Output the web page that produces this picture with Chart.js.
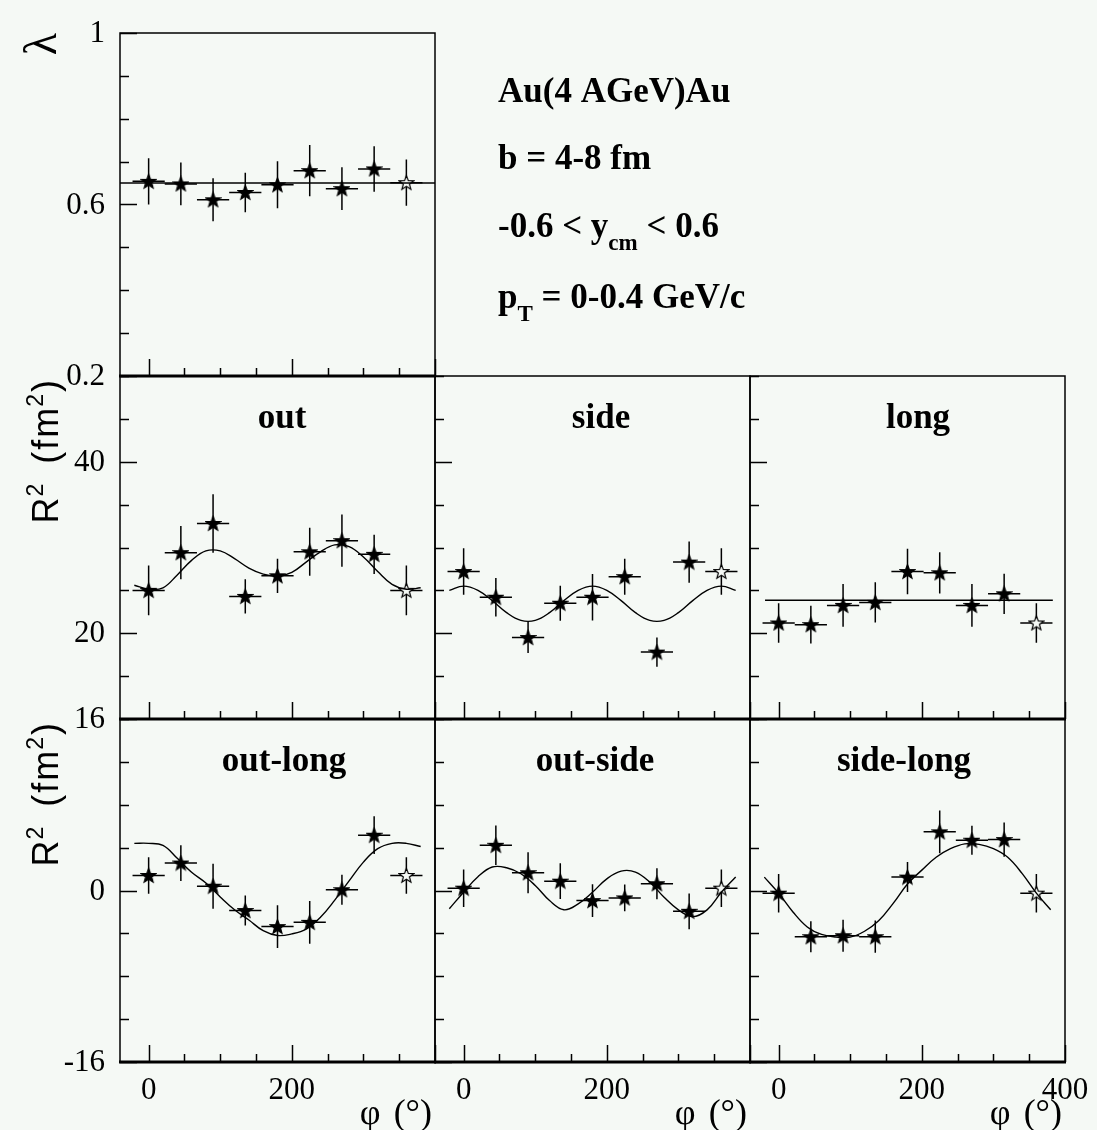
<!DOCTYPE html>
<html>
<head>
<meta charset="utf-8">
<script src="https://cdn.jsdelivr.net/npm/chart.js@4"></script>
<style>
  body { margin: 0; background: #f5f9f5; }
  #page { position: relative; width: 1097px; height: 1130px; overflow: hidden; }
  #page canvas { position: absolute; left: 0; top: 0; }
</style>
</head>
<body>
<div id="page"></div>
<script>
// emission angle of the pion pair, bin width +-22.5 deg; the 360 point is the mirrored 0 point
const phiPoints = [0, 45, 90, 135, 180, 225, 270, 315, 360];
const phiHalfWidth = 22.5;
const phiCurve = [-20, 0, 20, 40, 60, 80, 100, 120, 140, 160, 180, 200, 220, 240, 260, 280, 300, 320, 340, 360, 380];

const lambdaValues = [0.654, 0.648, 0.611, 0.628, 0.646, 0.679, 0.637, 0.683, 0.651];
const lambdaErrors = [0.054, 0.05, 0.05, 0.046, 0.055, 0.06, 0.05, 0.053, 0.054];
const lambdaFitPhi = [-40, 400];
const lambdaFit = [0.650, 0.650];

const outValues = [25.0, 29.4, 32.8, 24.3, 26.7, 29.5, 30.8, 29.2, 25.0];
const outErrors = [2.9, 3.1, 3.4, 2.0, 2.0, 2.8, 3.05, 2.3, 2.9];
const outFit = [25.6, 25.15, 25.3, 26.8, 28.5, 29.6, 29.6, 28.7, 27.6, 26.9, 26.65, 27.1, 28.3, 29.5, 30.3, 30.1, 28.9, 27.2, 25.7, 25.13, 25.3];

const sideValues = [27.2, 24.2, 19.5, 23.5, 24.2, 26.6, 17.8, 28.3, 27.2];
const sideErrors = [2.7, 2.25, 1.8, 2.05, 2.7, 2.1, 1.7, 2.4, 2.7];
const sideFit = [25.0, 25.5, 25.0, 23.8, 22.4, 21.5, 21.5, 22.4, 23.8, 25.0, 25.5, 25.0, 23.8, 22.4, 21.5, 21.5, 22.4, 23.8, 25.0, 25.5, 25.0];

const longValues = [21.2, 21.0, 23.25, 23.6, 27.2, 27.05, 23.25, 24.6, 21.2];
const longErrors = [2.3, 2.2, 2.5, 2.35, 2.65, 2.4, 2.5, 2.35, 2.3];
const longFitPhi = [-19, 383];
const longFit = [23.84, 23.84];

const outLongValues = [1.4, 2.56, 0.4, -1.87, -3.37, -2.97, 0.07, 5.16, 1.4];
const outLongErrors = [1.7, 1.67, 2.1, 1.4, 2.0, 2.0, 1.4, 1.76, 1.7];
const outLongFit = [4.4, 4.4, 4.2, 3.0, 1.7, 0.7, -0.6, -1.8, -2.75, -3.75, -4.2, -4.05, -3.6, -2.5, -0.9, 0.9, 2.65, 3.9, 4.4, 4.4, 4.1];

const outSideValues = [0.22, 4.22, 1.66, 0.87, -0.94, -0.69, 0.63, -1.94, 0.22];
const outSideErrors = [1.75, 1.84, 1.92, 1.67, 1.53, 1.25, 1.44, 1.67, 1.75];
const outSideFit = [-1.7, -0.16, 1.28, 2.19, 2.12, 1.56, 0.47, -0.94, -1.8, -1.25, -0.16, 1.09, 1.81, 1.72, 0.78, -0.63, -1.81, -2.44, -1.81, -0.16, 1.25];

const sideLongValues = [-0.25, -4.31, -4.22, -4.31, 1.25, 5.47, 4.69, 4.75, -0.25];
const sideLongErrors = [1.8, 1.45, 1.5, 1.5, 1.4, 2.0, 1.36, 1.6, 1.8];
const sideLongFit = [1.25, -0.25, -2.0, -3.4, -4.1, -4.35, -4.35, -3.8, -2.8, -1.2, 0.6, 1.9, 3.1, 3.9, 4.35, 4.3, 3.9, 3.1, 1.6, -0.25, -1.8];

// labelled (major) ticks
const phiTicks = [0, 200, 400];
const lambdaTicks = [1, 0.6, 0.2];
const radiusTicks = [40, 20];
const crossTicks = [16, 0, -16];

const W = 1097, H = 1130;
const PW = 315, PH = 343;
const BG = '#f5f9f5';
const SERIF = '"Liberation Serif", "Times New Roman", serif';
const SANS = '"Liberation Sans", Arial, sans-serif';
const page = document.getElementById('page');

function makeStar(filled) {
    const c = document.createElement('canvas');
    c.width = 17; c.height = 17;
    const g = c.getContext('2d');
    g.beginPath();
    for (let i = 0; i < 10; i++) {
        const r = i % 2 ? 3.2 : 7.6;
        const a = -Math.PI / 2 + i * Math.PI / 5;
        g.lineTo(8.5 + r * Math.cos(a), 9 + r * Math.sin(a));
    }
    g.closePath();
    g.fillStyle = filled ? '#000' : BG;
    g.fill();
    g.lineWidth = 1.2;
    g.strokeStyle = '#000';
    g.stroke();
    return c;
}
const fullStar = makeStar(true);
const openStar = makeStar(false);

function drawRich(ctx, x, y, parts) {
    ctx.textAlign = 'left';
    ctx.textBaseline = 'alphabetic';
    parts.forEach(([text, font, dy, gap]) => {
        ctx.font = font;
        x += gap || 0;
        ctx.fillText(text, x, y + (dy || 0));
        x += ctx.measureText(text).width;
    });
}

function richWidth(ctx, parts) {
    let len = 0;
    parts.forEach(([t, f, dy, gap]) => { ctx.font = f; len += ctx.measureText(t).width + (gap || 0); });
    return len;
}

function drawInfo(ctx) {
    const big = 'bold 35px ' + SERIF;
    const sub = 'bold 23px ' + SERIF;
    ctx.fillStyle = '#000';
    drawRich(ctx, 498, 102, [['Au(4 AGeV)Au', big]]);
    drawRich(ctx, 498, 169, [['b = 4-8 fm', big]]);
    drawRich(ctx, 498, 237, [['-0.6 < y', big], ['cm', sub, 13], [' < 0.6', big]]);
    drawRich(ctx, 498, 308, [['p', big], ['T', sub, 13], [' = 0-0.4 GeV/c', big]]);
}

function drawRadiusTitle(ctx, top) {
    const big = '36px ' + SANS;
    const sup = '23px ' + SANS;
    const parts = [['R', big], ['2', sup, -15, 1], ['(', big, 0, 20], ['f', big, 0, 2], ['m', big, 0, 2], ['2', sup, -15, 1], [')', big, 0, 2]];
    const len = richWidth(ctx, parts);
    ctx.save();
    ctx.translate(58, top + 4 + len);
    ctx.rotate(-Math.PI / 2);
    drawRich(ctx, 0, 0, parts);
    ctx.restore();
}

function panelPlugin(p) {
    return {
        id: 'panelFrame',
        beforeDatasetsDraw(chart) {
            const { ctx, scales: { x: xs, y: ys } } = chart;
            ctx.save();
            ctx.strokeStyle = '#000';
            ctx.lineWidth = 1.5;
            ctx.beginPath();
            phiPoints.forEach((phi, i) => {
                const v = p.values[i], e = p.errors[i];
                const px = xs.getPixelForValue(phi), py = ys.getPixelForValue(v);
                ctx.moveTo(xs.getPixelForValue(phi - phiHalfWidth), py);
                ctx.lineTo(xs.getPixelForValue(phi + phiHalfWidth), py);
                ctx.moveTo(px, ys.getPixelForValue(v + e));
                ctx.lineTo(px, ys.getPixelForValue(v - e));
            });
            ctx.stroke();
            ctx.restore();
        },
        afterDraw(chart) {
            const { ctx, chartArea: a, scales: { x: xs, y: ys } } = chart;
            ctx.save();
            ctx.strokeStyle = '#000';
            ctx.fillStyle = '#000';
            ctx.lineWidth = 1.5;
            ctx.strokeRect(a.left, a.top, a.right - a.left, a.bottom - a.top);
            ctx.lineWidth = 3;
            ctx.beginPath();
            ctx.moveTo(a.left - 1, a.bottom);
            ctx.lineTo(a.right + 1, a.bottom);
            ctx.stroke();

            // inward ticks
            ctx.lineWidth = 1.5;
            ctx.beginPath();
            const ny = Math.round((p.yMax - p.yMin) / p.yMinor);
            for (let k = 0; k <= ny; k++) {
                const v = p.yMin + k * p.yMinor;
                const major = p.yTicks.some(t => Math.abs(t - v) < 1e-6);
                const py = Math.round(ys.getPixelForValue(v)) + 0.5;
                ctx.moveTo(a.left, py);
                ctx.lineTo(a.left + (major ? 17 : 9), py);
            }
            for (let v = 0; v <= 400; v += 50) {
                const major = phiTicks.includes(v);
                const px = Math.round(xs.getPixelForValue(v)) + 0.5;
                ctx.moveTo(px, a.bottom);
                ctx.lineTo(px, a.bottom - (major ? 17 : 8));
            }
            ctx.stroke();

            ctx.font = '31px ' + SERIF;
            if (p.yLabels) {
                ctx.textAlign = 'right';
                ctx.textBaseline = 'middle';
                p.yTicks.forEach(t => {
                    ctx.fillText(String(t), a.left - 15, ys.getPixelForValue(t) + 1);
                });
            }
            if (p.xLabels) {
                ctx.textAlign = 'center';
                ctx.textBaseline = 'middle';
                p.xLabels.forEach(t => {
                    ctx.fillText(String(t), xs.getPixelForValue(t), a.bottom + 29);
                });
                ctx.font = '36px ' + SERIF;
                ctx.textAlign = 'right';
                ctx.textBaseline = 'alphabetic';
                const unitRight = a.right - 3;
                ctx.fillText('(\u00B0)', unitRight, a.bottom + 62);
                const unitWidth = ctx.measureText('(\u00B0)').width;
                ctx.fillText('\u03C6', unitRight - unitWidth - 13, a.bottom + 62);
            }
            if (p.title) {
                ctx.font = 'bold 35px ' + SERIF;
                ctx.textAlign = 'center';
                ctx.textBaseline = 'alphabetic';
                ctx.fillText(p.title, p.titleX, a.top + 52);
            }
            if (p.extra) p.extra(ctx, a);
            ctx.restore();
        }
    };
}

function panel(p) {
    const canvas = document.createElement('canvas');
    canvas.width = W;
    canvas.height = H;
    page.appendChild(canvas);
    const [left, top] = p.at;
    new Chart(canvas, {
        type: 'scatter',
        data: {
            datasets: [
                {
                    data: p.fitPhi.map((x, i) => ({ x, y: p.fit[i] })),
                    showLine: true,
                    borderColor: '#000',
                    borderWidth: 1.4,
                    pointRadius: 0,
                    tension: 0.4,
                },
                {
                    data: phiPoints.map((x, i) => ({ x, y: p.values[i] })),
                    pointStyle: phiPoints.map((x, i) => i === phiPoints.length - 1 ? openStar : fullStar),
                    pointRadius: 7,
                }
            ]
        },
        options: {
            responsive: false,
            animation: false,
            events: [],
            layout: { padding: { left, top, right: W - left - PW, bottom: H - top - PH } },
            scales: {
                x: { type: 'linear', min: -40, max: 400, display: false },
                y: { type: 'linear', min: p.yMin, max: p.yMax, display: false },
            },
            plugins: { legend: { display: false }, tooltip: { enabled: false } },
        },
        plugins: [panelPlugin(p)],
    });
}

const lambdaRow = { yMin: 0.2, yMax: 1, yMinor: 0.1, yTicks: lambdaTicks };
const radiusRow = { yMin: 10, yMax: 50, yMinor: 5, yTicks: radiusTicks };
const crossRow = { yMin: -16, yMax: 16, yMinor: 4, yTicks: crossTicks };

panel({ ...lambdaRow, at: [120, 33], values: lambdaValues, errors: lambdaErrors,
    fitPhi: lambdaFitPhi, fit: lambdaFit, yLabels: true,
    extra: (ctx) => {
        ctx.save();
        ctx.font = '46px ' + SERIF;
        ctx.textAlign = 'center';
        ctx.textBaseline = 'middle';
        ctx.translate(44, 44);
        ctx.rotate(-Math.PI / 2);
        ctx.fillText('\u03BB', 0, 0);
        ctx.restore();
        drawInfo(ctx);
    } });

panel({ ...radiusRow, at: [120, 376], values: outValues, errors: outErrors,
    fitPhi: phiCurve, fit: outFit, yLabels: true, title: 'out', titleX: 282,
    extra: (ctx, a) => drawRadiusTitle(ctx, a.top) });
panel({ ...radiusRow, at: [435, 376], values: sideValues, errors: sideErrors,
    fitPhi: phiCurve, fit: sideFit, title: 'side', titleX: 601 });
panel({ ...radiusRow, at: [750, 376], values: longValues, errors: longErrors,
    fitPhi: longFitPhi, fit: longFit, title: 'long', titleX: 918 });

panel({ ...crossRow, at: [120, 719], values: outLongValues, errors: outLongErrors,
    fitPhi: phiCurve, fit: outLongFit, yLabels: true, xLabels: [0, 200],
    title: 'out-long', titleX: 284,
    extra: (ctx, a) => drawRadiusTitle(ctx, a.top) });
panel({ ...crossRow, at: [435, 719], values: outSideValues, errors: outSideErrors,
    fitPhi: phiCurve, fit: outSideFit, xLabels: [0, 200], title: 'out-side', titleX: 595 });
panel({ ...crossRow, at: [750, 719], values: sideLongValues, errors: sideLongErrors,
    fitPhi: phiCurve, fit: sideLongFit, xLabels: phiTicks, title: 'side-long', titleX: 904 });
</script>
</body>
</html>
